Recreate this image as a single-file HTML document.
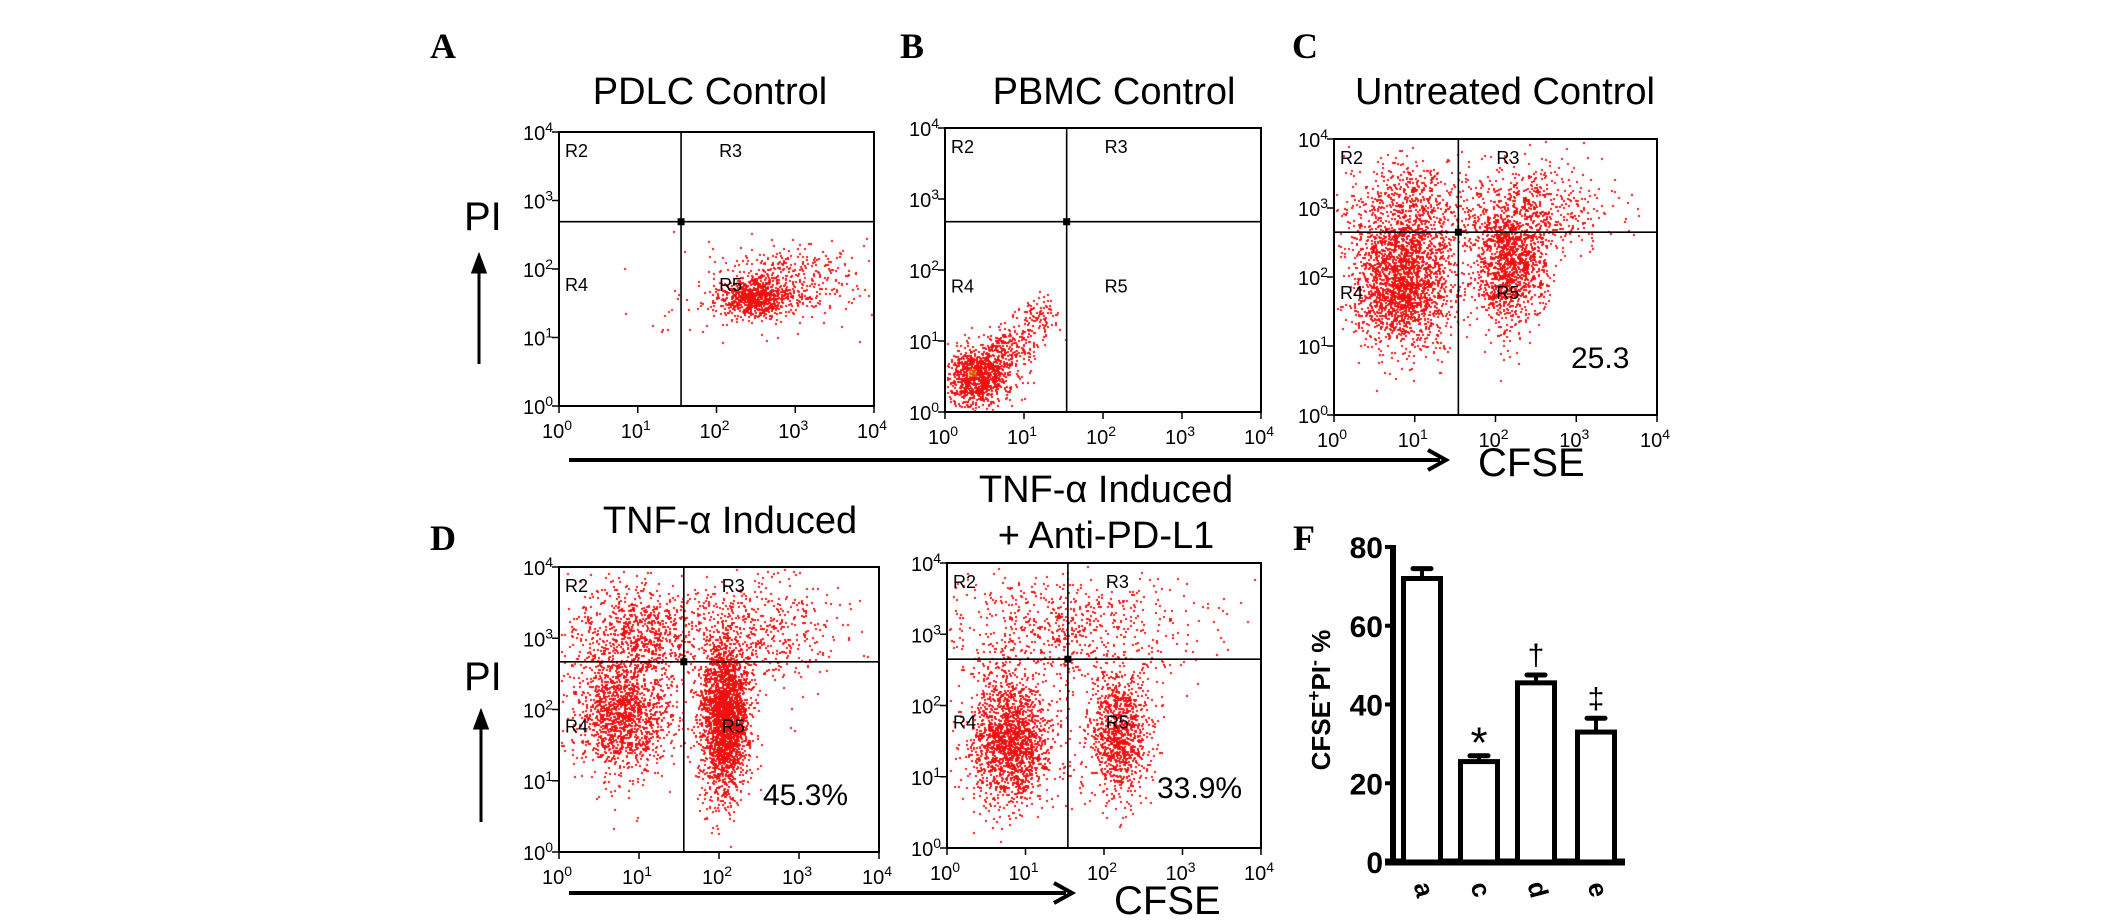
<!DOCTYPE html>
<html><head><meta charset="utf-8">
<style>
html,body{margin:0;padding:0;background:#fff;}
#wrap{position:relative;width:2126px;height:923px;overflow:hidden;background:#fff;}
canvas,svg{position:absolute;left:0;top:0;}
text{font-family:"Liberation Sans",sans-serif;}
text.serif{font-family:"Liberation Serif",serif;font-weight:bold;}
</style></head>
<body>
<div id="wrap">
<canvas id="dots" width="2126" height="923"></canvas>
<svg id="fig" width="2126" height="923" xmlns="http://www.w3.org/2000/svg">
  <g font-size="36">
    <text class="serif" x="430" y="58">A</text>
    <text class="serif" x="900" y="58">B</text>
    <text class="serif" x="1292" y="58">C</text>
    <text class="serif" x="430" y="550">D</text>
    <text class="serif" x="1293" y="550">F</text>
  </g>
  <g font-size="38" text-anchor="middle">
    <text x="710" y="104">PDLC Control</text>
    <text x="1114" y="104">PBMC Control</text>
    <text x="1505" y="104">Untreated Control</text>
    <text x="730" y="533">TNF-α Induced</text>
    <text x="1106" y="502">TNF-α Induced</text>
    <text x="1106" y="548">+ Anti-PD-L1</text>
  </g>
  <g font-size="40">
    <text x="464" y="230">PI</text>
    <text x="464" y="690">PI</text>
    <text x="1478" y="476">CFSE</text>
    <text x="1114" y="914">CFSE</text>
  </g>
  <g stroke="#000" stroke-width="3" fill="#000">
    <line x1="479" y1="364" x2="479" y2="266"/>
    <polygon points="479,256 473,272 485,272"/>
    <line x1="481" y1="822" x2="481" y2="722"/>
    <polygon points="481,712 475,728 487,728"/>
    <line x1="569" y1="460" x2="1440" y2="460" stroke-width="4"/>
    <polyline points="1428,450 1446,460 1428,470" fill="none" stroke-width="4"/>
    <line x1="569" y1="893" x2="1066" y2="893" stroke-width="4"/>
    <polyline points="1054,883 1072,893 1054,903" fill="none" stroke-width="4"/>
  </g>
  <g font-size="30">
    <text x="1571" y="368">25.3</text>
    <text x="763" y="805">45.3%</text>
    <text x="1157" y="798">33.9%</text>
  </g>
  <g id="panels"></g>
  <g id="bars"></g>
</svg>
</div>
<script>
// ---------- scatter cluster data (log10 units: cx, cy, sdx, sdy, count) ----------
const clustersA = [[2.45,1.58,0.22,0.14,700],[2.9,1.85,0.45,0.3,400],[2.0,1.5,0.5,0.4,40]];
const clustersB = [[0.42,0.52,0.2,0.22,1000],[0.85,0.95,0.16,0.16,180],[1.2,1.35,0.12,0.14,90]];
const clustersC = [[0.84,1.9,0.3,0.45,2000],[0.95,2.95,0.42,0.4,700],[2.18,2.2,0.22,0.45,1250],[2.45,3.0,0.5,0.35,520]];
const clustersD = [[0.8,1.95,0.3,0.42,1400],[0.95,3.1,0.45,0.35,800],[2.06,1.9,0.15,0.55,2300],[2.5,3.1,0.55,0.4,520]];
const clustersE = [[0.8,1.52,0.26,0.45,1700],[2.18,1.6,0.2,0.45,1000],[1.5,3.1,0.8,0.4,720]];
// ---------- bar chart data ----------
const barCategories = ['a','c','d','e'];
const barValues = [72, 25.5, 45.5, 33];
const barErrors = [2.5, 1.5, 2, 3.5];
const barMarks = ['', '*', '†', '‡'];
const barTicks = [0,20,40,60,80];
const decadeTicks = ['0','1','2','3','4'];

const NS='http://www.w3.org/2000/svg';
function mk(tag,attrs,parent){const e=document.createElementNS(NS,tag);for(const k in attrs)e.setAttribute(k,attrs[k]);parent.appendChild(e);return e;}

const panels=[
 {id:'a',x0:559,x1:874,y0:132,y1:406,qx:1.55,qy:2.69,cl:clustersA},
 {id:'b',x0:945,x1:1261,y0:128,y1:412,qx:1.54,qy:2.68,cl:clustersB},
 {id:'c',x0:1334,x1:1657,y0:139,y1:415,qx:1.54,qy:2.65,cl:clustersC},
 {id:'d',x0:559,x1:879,y0:567,y1:852,qx:1.56,qy:2.67,cl:clustersD},
 {id:'e',x0:947,x1:1261,y0:563,y1:848,qx:1.54,qy:2.65,cl:clustersE}
];
let seed=12345;
function rnd(){seed|=0;seed=seed+0x6D2B79F5|0;let t=Math.imul(seed^seed>>>15,1|seed);t=t+Math.imul(t^t>>>7,61|t)^t;return((t^t>>>14)>>>0)/4294967296;}
function gauss(){let u=rnd()||1e-9,v=rnd();return Math.sqrt(-2*Math.log(u))*Math.cos(2*Math.PI*v);}

const ctx=document.getElementById('dots').getContext('2d');
const G=document.getElementById('panels');
panels.forEach(p=>{
  const sx=v=>p.x0+v/4*(p.x1-p.x0);
  const sy=v=>p.y1-v/4*(p.y1-p.y0);
  ctx.fillStyle='#f01010';
  p.cl.forEach(c=>{
    for(let i=0;i<c[4];i++){
      const lx=c[0]+gauss()*c[2], ly=c[1]+gauss()*c[3];
      if(lx<0.02||lx>3.98||ly<0.02||ly>3.98)continue;
      ctx.fillRect(Math.round(sx(lx)),Math.round(sy(ly)),2,2);
    }
  });
  if(p.id==='b'){ctx.fillStyle='rgba(230,120,0,0.6)';ctx.fillRect(sx(0.35)-4,sy(0.55)-4,8,8);}
  const g=mk('g',{},G);
  
  
  const box=mk('rect',{x:p.x0,y:p.y0,width:p.x1-p.x0,height:p.y1-p.y0,fill:'none',stroke:'#000','stroke-width':2},g);
  
  
  const vl=mk('line',{x1:sx(p.qx),x2:sx(p.qx),y1:p.y0,y2:p.y1,stroke:'#000','stroke-width':1.6},g);
  
  
  const hl=mk('line',{x1:p.x0,x2:p.x1,y1:sy(p.qy),y2:sy(p.qy),stroke:'#000','stroke-width':1.6},g);
  
  
  const ce=mk('rect',{x:sx(p.qx)-3.5,y:sy(p.qy)-3.5,width:7,height:7,fill:'#000'},g);
  
  
  decadeTicks.forEach((t,i)=>{
    mk('line',{x1:sx(i),x2:sx(i),y1:p.y1,y2:p.y1+7,stroke:'#000','stroke-width':1.5},g);
    const tx=mk('text',{x:sx(i)-2,y:p.y1+32,'font-size':20,'text-anchor':'middle'},g);
    
    
    tx.innerHTML='10<tspan dy="-8" font-size="14">'+t+'</tspan>';
    mk('line',{x1:p.x0-7,x2:p.x0,y1:sy(i),y2:sy(i),stroke:'#000','stroke-width':1.5},g);
    const ty=mk('text',{x:p.x0-36,y:sy(i)+8,'font-size':20},g);
    
    
    ty.innerHTML='10<tspan dy="-8" font-size="14">'+t+'</tspan>';
  });
  const rl=[['R2',p.x0+6,p.y0+25],['R3',sx(p.qx)+38,p.y0+25],['R4',p.x0+6,p.y0+(p.y1-p.y0)*0.58],['R5',sx(p.qx)+38,p.y0+(p.y1-p.y0)*0.58]];
  rl.forEach(r=>{
    const t=mk('text',{x:r[1],y:r[2],'font-size':18},g);
    
    
    t.textContent=r[0];
  });
});

// ---------- bar chart ----------
const B=document.getElementById('bars');
const bx0=1393, by0=862, bTop=547, bx1=1625;
const yb=v=>by0-v/80*(by0-bTop);
const barX=[1401,1458,1515,1575], barW=42;
const ax=mk('line',{x1:bx0,x2:bx0,y1:bTop-2,y2:by0+3,stroke:'#000','stroke-width':6},B);


const axx=mk('line',{x1:bx0-8,x2:bx1,y1:by0,y2:by0,stroke:'#000','stroke-width':7},B);


barTicks.forEach(v=>{
  mk('line',{x1:bx0-8,x2:bx0,y1:yb(v),y2:yb(v),stroke:'#000','stroke-width':4},B);
  const t=mk('text',{x:bx0-10,y:yb(v)+11,'font-size':30,'font-weight':'bold','text-anchor':'end'},B);
  
  
  t.textContent=v;
});
barCategories.forEach((c,i)=>{
  const x=barX[i], top=yb(barValues[i]), et=yb(barValues[i]+barErrors[i]);
  const r=mk('rect',{x:x+2.5,y:top,width:barW-5,height:by0-top,fill:'#fff',stroke:'#000','stroke-width':5},B);
  
  
  const e=mk('line',{x1:x+barW/2,x2:x+barW/2,y1:top,y2:et,stroke:'#000','stroke-width':4},B);
  
  
  const cap=mk('line',{x1:x+barW/2-9,x2:x+barW/2+9,y1:et,y2:et,stroke:'#000','stroke-width':5,'stroke-linecap':'round'},B);
  
  
  if(barMarks[i]){
    const star=barMarks[i]==='*';
    const m=mk('text',{x:x+barW/2,y:et-(star?-2:10),'font-size':star?44:30,'text-anchor':'middle'},B);
    
    
    m.textContent=barMarks[i];
  }
  const l=mk('text',{x:0,y:0,'font-size':26,'font-weight':'bold','text-anchor':'middle',transform:'translate('+(x+barW/2)+',890) rotate(75)'},B);
  
  
  l.setAttribute('dominant-baseline','middle');
  l.textContent=c;
});
const yt=mk('text',{x:0,y:0,'font-size':26,'font-weight':'bold','text-anchor':'middle',transform:'translate(1330,700) rotate(-90)'},B);


yt.innerHTML='CFSE<tspan dy="-10" font-size="18">+</tspan><tspan dy="10">PI</tspan><tspan dy="-10" font-size="18">-</tspan><tspan dy="10"> %</tspan>';
</script>
</body></html>
